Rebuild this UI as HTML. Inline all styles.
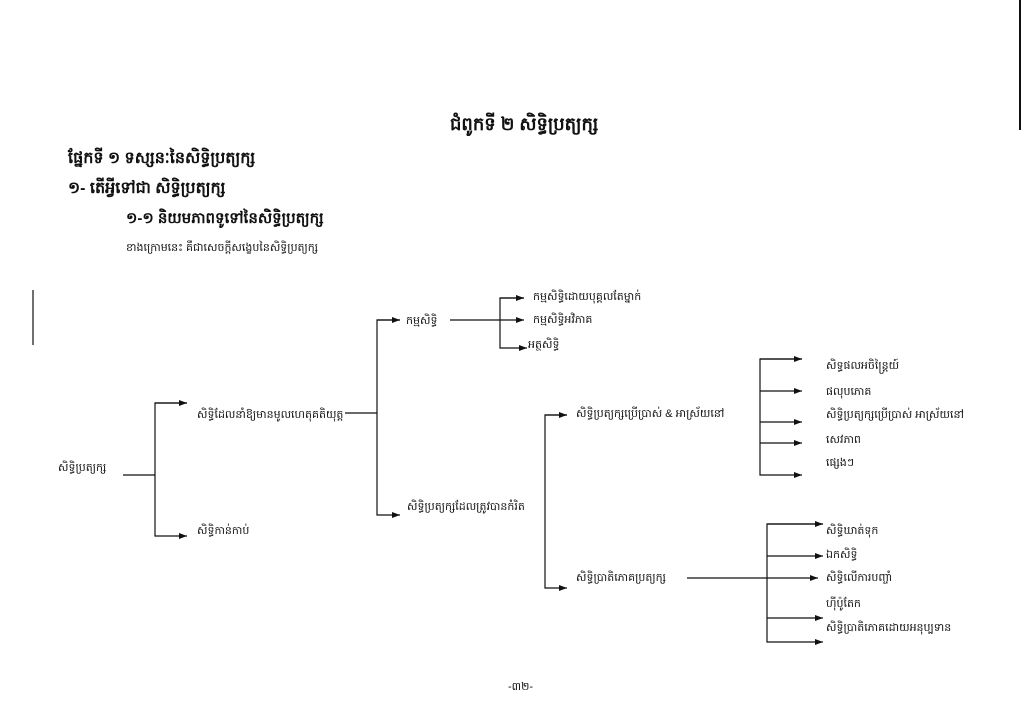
<!DOCTYPE html>
<html><head><meta charset="utf-8"><style>
body{margin:0;background:#fff}
#p{position:relative;width:1024px;height:724px;overflow:hidden;background:#fff;font-family:"Liberation Sans","DejaVu Sans",sans-serif;color:#111}
.t{position:absolute;white-space:nowrap;font-size:11px;line-height:14px}
.b{font-weight:bold;font-size:16px;line-height:18px}
svg{position:absolute;left:0;top:0}
</style></head><body><div id="p">
<svg width="1024" height="724" viewBox="0 0 1024 724">
<defs><marker id="a" markerWidth="8" markerHeight="6" refX="8" refY="3" orient="auto" markerUnits="userSpaceOnUse"><path d="M0,0L8,3L0,6z" fill="#111"/></marker></defs>
<g stroke="#111" stroke-width="1.2" fill="none">
<line x1="1020" y1="0" x2="1020" y2="130" stroke-width="2"/>
<line x1="33" y1="290" x2="33" y2="345"/>
<line x1="123" y1="475" x2="155" y2="475"/>
<polyline points="187,403 155,403 155,536 187,536" marker-end="url(#a)"/>
<line x1="155" y1="403" x2="187" y2="403" marker-end="url(#a)"/>
<line x1="345" y1="413" x2="377" y2="413"/>
<polyline points="400,320 377,320 377,515 400,515" marker-end="url(#a)"/>
<line x1="377" y1="320" x2="400" y2="320" marker-end="url(#a)"/>
<line x1="450" y1="320" x2="500" y2="320"/>
<polyline points="524,298 500,298 500,348 527,348" marker-end="url(#a)"/>
<line x1="500" y1="298" x2="524" y2="298" marker-end="url(#a)"/>
<line x1="500" y1="320" x2="524" y2="320" marker-end="url(#a)"/>
<polyline points="567,415 545,415 545,588 567,588" marker-end="url(#a)"/>
<line x1="545" y1="415" x2="567" y2="415" marker-end="url(#a)"/>
<line x1="687" y1="578" x2="818" y2="578" marker-end="url(#a)"/>
<polyline points="802,359 760,359 760,475 802,475" marker-end="url(#a)"/>
<line x1="760" y1="359" x2="802" y2="359" marker-end="url(#a)"/>
<line x1="760" y1="391" x2="802" y2="391" marker-end="url(#a)"/>
<line x1="760" y1="422" x2="802" y2="422" marker-end="url(#a)"/>
<line x1="760" y1="443" x2="802" y2="443" marker-end="url(#a)"/>
<polyline points="823,524 767,524 767,642 823,642" marker-end="url(#a)"/>
<line x1="767" y1="524" x2="823" y2="524" marker-end="url(#a)"/>
<line x1="767" y1="556" x2="823" y2="556" marker-end="url(#a)"/>
<line x1="767" y1="618" x2="823" y2="618" marker-end="url(#a)"/>
</g></svg>
<div class="t b" style="left:450px;top:114px;font-size:18px;line-height:20px">ជំពូកទី ២ សិទ្ធិប្រត្យក្ស</div>
<div class="t b" style="left:68px;top:150px">ផ្នែកទី ១ ទស្សនៈនៃសិទ្ធិប្រត្យក្ស</div>
<div class="t b" style="left:68px;top:180px">១- តើអ្វីទៅជា សិទ្ធិប្រត្យក្ស</div>
<div class="t b" style="left:126px;top:210px;font-size:15px">១-១ និយមភាពទូទៅនៃសិទ្ធិប្រត្យក្ស</div>
<div class="t" style="left:126px;top:241px;font-size:11px">ខាងក្រោមនេះ គឺជាសេចក្ដីសង្ខេបនៃសិទ្ធិប្រត្យក្ស</div>
<div class="t" style="left:58px;top:461px">សិទ្ធិប្រត្យក្ស</div>
<div class="t" style="left:197px;top:408px">សិទ្ធិដែលនាំឱ្យមានមូលហេតុគតិយុត្ត</div>
<div class="t" style="left:197px;top:524px">សិទ្ធិកាន់កាប់</div>
<div class="t" style="left:406px;top:314px">កម្មសិទ្ធិ</div>
<div class="t" style="left:533px;top:290px">កម្មសិទ្ធិដោយបុគ្គលតែម្នាក់</div>
<div class="t" style="left:533px;top:313px">កម្មសិទ្ធិអវិភាគ</div>
<div class="t" style="left:528px;top:338px">អត្ថសិទ្ធិ</div>
<div class="t" style="left:407px;top:500px">សិទ្ធិប្រត្យក្សដែលត្រូវបានកំរិត</div>
<div class="t" style="left:576px;top:407px">សិទ្ធិប្រត្យក្សប្រើប្រាស់ &amp; អាស្រ័យនៅ</div>
<div class="t" style="left:576px;top:571px">សិទ្ធិប្រាតិភោគប្រត្យក្ស</div>
<div class="t" style="left:826px;top:359px">សិទ្ធផលអចិន្ត្រៃយ៍</div>
<div class="t" style="left:826px;top:385px">ផលុបភោគ</div>
<div class="t" style="left:826px;top:408px">សិទ្ធិប្រត្យក្សប្រើប្រាស់ អាស្រ័យនៅ</div>
<div class="t" style="left:826px;top:433px">សេវភាព</div>
<div class="t" style="left:826px;top:456px">ផ្សេងៗ</div>
<div class="t" style="left:826px;top:524px">សិទ្ធិឃាត់ទុក</div>
<div class="t" style="left:826px;top:548px">ឯកសិទ្ធិ</div>
<div class="t" style="left:826px;top:571px">សិទ្ធិលើការបញ្ចាំ</div>
<div class="t" style="left:826px;top:597px">ហ៊ីប៉ូតែក</div>
<div class="t" style="left:826px;top:621px">សិទ្ធិប្រាតិភោគដោយអនុប្បទាន</div>
<div class="t" style="left:508px;top:680px">-៣២-</div>
</div></body></html>
